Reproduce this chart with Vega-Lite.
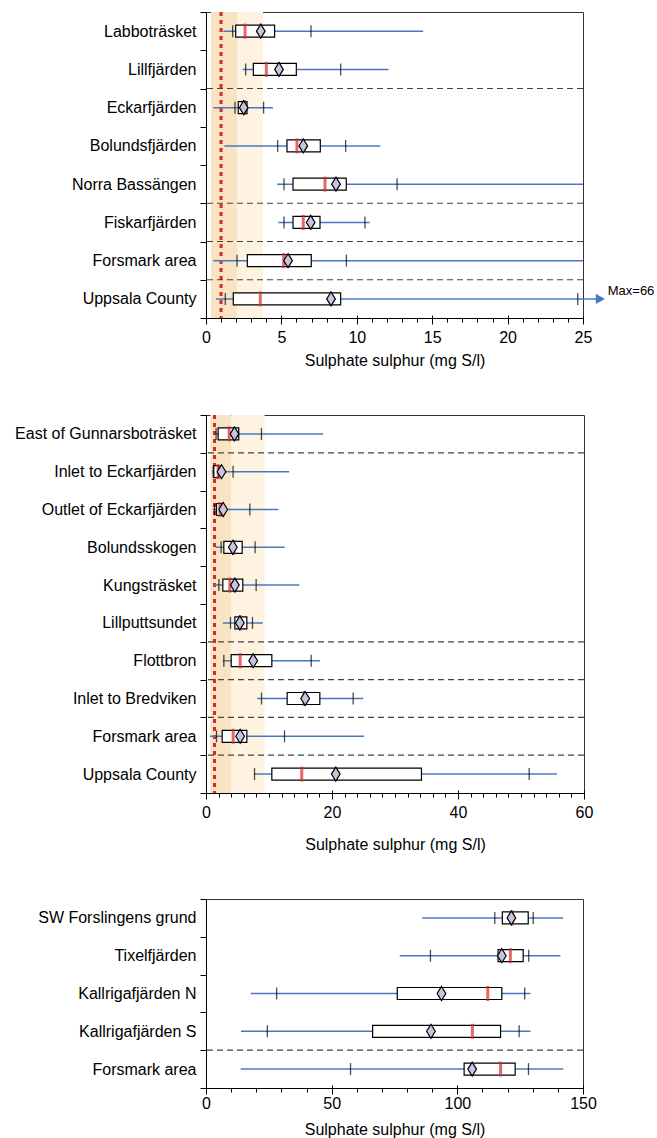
{
  "$schema": "https://vega.github.io/schema/vega-lite/v6.json",
  "padding": {"left": 14, "top": 3, "right": 2, "bottom": 2},
  "spacing": 37,
  "config": {
    "font": "Liberation Sans",
    "view": {"stroke": "#333", "strokeWidth": 1},
    "axis": {"labelFontSize": 16, "titleFontSize": 16, "titleFontWeight": "normal", "labelColor": "#000", "titleColor": "#000", "tickColor": "#000", "domainColor": "#000", "grid": false, "labelFont": "Liberation Sans", "titleFont": "Liberation Sans", "labelLimit": 300}
  },
  "datasets": {
    "p1": [
      {"site": "Labboträsket", "lo": 1.15, "p10": 1.77, "q1": 1.97, "med": 2.59, "mean": 3.63, "q3": 4.55, "p90": 6.96, "hi": 14.4},
      {"site": "Lillfjärden", "lo": 2.43, "p10": 2.63, "q1": 3.14, "med": 4.0, "mean": 4.84, "q3": 5.99, "p90": 8.93, "hi": 12.1},
      {"site": "Eckarfjärden", "lo": 0.49, "p10": 1.92, "q1": 2.14, "med": 2.54, "mean": 2.5, "q3": 2.72, "p90": 3.82, "hi": 4.44},
      {"site": "Bolundsfjärden", "lo": 1.22, "p10": 4.75, "q1": 5.37, "med": 6.03, "mean": 6.45, "q3": 7.58, "p90": 9.26, "hi": 11.56},
      {"site": "Norra Bassängen", "lo": 4.71, "p10": 5.17, "q1": 5.77, "med": 7.89, "mean": 8.62, "q3": 9.3, "p90": 12.67, "hi": 25},
      {"site": "Fiskarfjärden", "lo": 4.8, "p10": 5.17, "q1": 5.77, "med": 6.45, "mean": 6.94, "q3": 7.56, "p90": 10.54, "hi": 10.85},
      {"site": "Forsmark area", "lo": 0.49, "p10": 2.06, "q1": 2.74, "med": 5.15, "mean": 5.44, "q3": 6.98, "p90": 9.31, "hi": 25},
      {"site": "Uppsala County", "lo": 0.66, "p10": 1.28, "q1": 1.81, "med": 3.6, "mean": 8.29, "q3": 8.93, "p90": 24.65, "hi": 25.9}
    ],
    "p2": [
      {"site": "East of Gunnarsboträsket", "lo": 1.5, "p10": 1.6, "q1": 1.93, "med": 3.68, "mean": 4.52, "q3": 5.2, "p90": 8.8, "hi": 18.6},
      {"site": "Inlet to Eckarfjärden", "lo": 0.98, "p10": 1.14, "q1": 1.24, "med": 1.93, "mean": 2.46, "q3": 2.03, "p90": 4.3, "hi": 13.2},
      {"site": "Outlet of Eckarfjärden", "lo": 1.08, "p10": 1.35, "q1": 1.67, "med": 2.2, "mean": 2.73, "q3": 2.46, "p90": 6.96, "hi": 11.5},
      {"site": "Bolundsskogen", "lo": 1.51, "p10": 2.4, "q1": 2.83, "med": 4.42, "mean": 4.26, "q3": 5.74, "p90": 7.8, "hi": 12.5},
      {"site": "Kungsträsket", "lo": 1.14, "p10": 2.04, "q1": 2.67, "med": 3.78, "mean": 4.58, "q3": 5.84, "p90": 7.96, "hi": 14.8},
      {"site": "Lillputtsundet", "lo": 2.67, "p10": 3.89, "q1": 4.58, "med": 5.48, "mean": 5.37, "q3": 6.48, "p90": 7.38, "hi": 9.02},
      {"site": "Flottbron", "lo": 2.67, "p10": 2.83, "q1": 4.0, "med": 5.42, "mean": 7.49, "q3": 10.45, "p90": 16.7, "hi": 18.07},
      {"site": "Inlet to Bredviken", "lo": 8.12, "p10": 8.81, "q1": 12.88, "med": 15.58, "mean": 15.74, "q3": 18.07, "p90": 23.36, "hi": 24.95},
      {"site": "Forsmark area", "lo": 0.61, "p10": 1.67, "q1": 2.57, "med": 4.31, "mean": 5.42, "q3": 6.48, "p90": 12.46, "hi": 25.1},
      {"site": "Uppsala County", "lo": 7.6, "p10": 7.7, "q1": 10.45, "med": 15.2, "mean": 20.6, "q3": 34.2, "p90": 51.3, "hi": 55.7}
    ],
    "p3": [
      {"site": "SW Forslingens grund", "lo": 86.0, "p10": 114.9, "q1": 117.9, "med": 121.9, "mean": 121.5, "q3": 128.2, "p90": 130.2, "hi": 142.1},
      {"site": "Tixelfjärden", "lo": 77.1, "p10": 89.3, "q1": 116.2, "med": 121.1, "mean": 117.7, "q3": 126.2, "p90": 128.4, "hi": 141.0},
      {"site": "Kallrigafjärden N", "lo": 17.8, "p10": 28.1, "q1": 76.1, "med": 112.1, "mean": 93.7, "q3": 117.7, "p90": 126.8, "hi": 129.1},
      {"site": "Kallrigafjärden S", "lo": 13.9, "p10": 24.4, "q1": 66.3, "med": 106.0, "mean": 89.5, "q3": 117.2, "p90": 124.6, "hi": 129.1},
      {"site": "Forsmark area", "lo": 13.8, "p10": 57.5, "q1": 102.7, "med": 117.2, "mean": 105.9, "q3": 123.0, "p90": 128.3, "hi": 142.1}
    ],
    "sep1": [{"after": "Lillfjärden"}, {"after": "Norra Bassängen"}, {"after": "Fiskarfjärden"}, {"after": "Forsmark area"}],
    "sep2": [{"after": "East of Gunnarsboträsket"}, {"after": "Lillputtsundet"}, {"after": "Flottbron"}, {"after": "Inlet to Bredviken"}, {"after": "Forsmark area"}],
    "sep3": [{"after": "Kallrigafjärden S"}],
    "shade1": [{"zone": "inner", "from": 0.33, "to": 2.06}, {"zone": "outer", "from": 2.06, "to": 3.78}],
    "shade2": [{"zone": "inner", "from": 0.71, "to": 4.05}, {"zone": "outer", "from": 4.05, "to": 9.3}],
    "ref1": [{"value": 1.0}],
    "ref2": [{"value": 1.35}],
    "arrow": [{"site": "Uppsala County", "x": 26.15, "tx": 26.64, "label": "Max=66"}]
  },
  "vconcat": [
    {
      "width": 377,
      "height": 306,
      "resolve": {"axis": {"x": "independent"}},
      "layer": [
        {"data": {"name": "shade1"}, "mark": {"type": "rect"},
         "encoding": {
           "x": {"field": "from", "type": "quantitative", "scale": {"domain": [0, 25], "nice": false, "zero": true},
                 "axis": {"orient": "bottom", "offset": 0, "title": "Sulphate sulphur (mg S/l)", "values": [0, 5, 10, 15, 20, 25], "tickSize": 6, "labelPadding": 5, "titlePadding": 7, "labelFlush": false}},
           "x2": {"field": "to"},
           "color": {"field": "zone", "type": "nominal", "scale": {"domain": ["inner", "outer"], "range": ["#f8e4c2", "#fdf3e0"]}, "legend": null}
         }},
        {"data": {"name": "ref1"}, "mark": {"type": "rule", "color": "#d42a2a", "strokeWidth": 3, "strokeDash": [4, 4]},
         "encoding": {"x": {"field": "value", "type": "quantitative", "axis": null}}},
        {"data": {"name": "sep1"}, "mark": {"type": "rule", "color": "#444", "strokeWidth": 1.2, "strokeDash": [6, 4]},
         "encoding": {"y": {"field": "after", "type": "nominal", "bandPosition": 1,
           "scale": {"domain": ["Labboträsket", "Lillfjärden", "Eckarfjärden", "Bolundsfjärden", "Norra Bassängen", "Fiskarfjärden", "Forsmark area", "Uppsala County"], "paddingInner": 0, "paddingOuter": 0},
           "axis": {"title": null, "tickBand": "extent", "tickSize": 6, "labelPadding": 4}}}},
        {"data": {"name": "p1"}, "mark": {"type": "rule", "color": "#4a78c0", "strokeWidth": 1.5},
         "encoding": {"y": {"field": "site", "type": "nominal"},
           "x": {"field": "lo", "type": "quantitative", "axis": {"orient": "bottom", "offset": 0, "title": null, "values": [0,1,2,3,4,6,7,8,9,11,12,13,14,16,17,18,19,21,22,23,24], "labels": false, "domain": false, "tickSize": 4}},
           "x2": {"field": "hi"}}},
        {"data": {"name": "p1"}, "mark": {"type": "tick", "color": "#000", "thickness": 1.3, "size": 12},
         "encoding": {"y": {"field": "site", "type": "nominal"}, "x": {"field": "p10", "type": "quantitative", "axis": null}}},
        {"data": {"name": "p1"}, "mark": {"type": "tick", "color": "#000", "thickness": 1.3, "size": 12},
         "encoding": {"y": {"field": "site", "type": "nominal"}, "x": {"field": "p90", "type": "quantitative", "axis": {"orient": "bottom", "offset": 0, "title": null, "values": [0, 5, 10, 15, 20, 25], "labels": false, "domain": false, "tickSize": -3}}}},
        {"data": {"name": "p1"}, "mark": {"type": "bar", "fill": "#ffffff", "stroke": "#000", "strokeWidth": 1.2, "height": 12},
         "encoding": {"y": {"field": "site", "type": "nominal"}, "x": {"field": "q1", "type": "quantitative", "axis": null}, "x2": {"field": "q3"}}},
        {"data": {"name": "p1"}, "mark": {"type": "tick", "color": "#d42a2a", "thickness": 3, "size": 15},
         "encoding": {"y": {"field": "site", "type": "nominal"}, "x": {"field": "med", "type": "quantitative", "axis": null}}},
        {"data": {"name": "p1"}, "mark": {"type": "point", "shape": "M0,-1L0.62,0L0,1L-0.62,0Z", "filled": true, "fill": "#c5c5df", "stroke": "#000", "strokeWidth": 1.2, "size": 196, "opacity": 1},
         "encoding": {"y": {"field": "site", "type": "nominal"}, "x": {"field": "mean", "type": "quantitative", "axis": null}}},
        {"data": {"name": "arrow"}, "mark": {"type": "point", "shape": "triangle-right", "filled": true, "color": "#4a78c0", "size": 110, "opacity": 1},
         "encoding": {"y": {"field": "site", "type": "nominal"}, "x": {"field": "x", "type": "quantitative", "axis": null}}},
        {"data": {"name": "arrow"}, "mark": {"type": "text", "align": "left", "baseline": "middle", "fontSize": 13, "dy": -8, "color": "#000"},
         "encoding": {"y": {"field": "site", "type": "nominal"}, "x": {"field": "tx", "type": "quantitative", "axis": null}, "text": {"field": "label"}}}
      ]
    },
    {
      "width": 378,
      "height": 378,
      "resolve": {"axis": {"x": "independent"}},
      "layer": [
        {"data": {"name": "shade2"}, "mark": {"type": "rect"},
         "encoding": {
           "x": {"field": "from", "type": "quantitative", "scale": {"domain": [0, 60], "nice": false, "zero": true},
                 "axis": {"orient": "bottom", "offset": 0, "title": "Sulphate sulphur (mg S/l)", "values": [0, 20, 40, 60], "tickSize": 6, "labelPadding": 5, "titlePadding": 16, "labelFlush": false}},
           "x2": {"field": "to"},
           "color": {"field": "zone", "type": "nominal", "scale": {"domain": ["inner", "outer"], "range": ["#f8e4c2", "#fdf3e0"]}, "legend": null}
         }},
        {"data": {"name": "ref2"}, "mark": {"type": "rule", "color": "#d42a2a", "strokeWidth": 3, "strokeDash": [4, 4]},
         "encoding": {"x": {"field": "value", "type": "quantitative", "axis": null}}},
        {"data": {"name": "sep2"}, "mark": {"type": "rule", "color": "#444", "strokeWidth": 1.2, "strokeDash": [6, 4]},
         "encoding": {"y": {"field": "after", "type": "nominal", "bandPosition": 1,
           "scale": {"domain": ["East of Gunnarsboträsket", "Inlet to Eckarfjärden", "Outlet of Eckarfjärden", "Bolundsskogen", "Kungsträsket", "Lillputtsundet", "Flottbron", "Inlet to Bredviken", "Forsmark area", "Uppsala County"], "paddingInner": 0, "paddingOuter": 0},
           "axis": {"title": null, "tickBand": "extent", "tickSize": 6, "labelPadding": 4}}}},
        {"data": {"name": "p2"}, "mark": {"type": "rule", "color": "#4a78c0", "strokeWidth": 1.5},
         "encoding": {"y": {"field": "site", "type": "nominal"},
           "x": {"field": "lo", "type": "quantitative", "axis": {"orient": "bottom", "offset": 0, "title": null, "values": [2,4,6,8,10,12,14,16,18,22,24,26,28,30,32,34,36,38,42,44,46,48,50,52,54,56,58], "labels": false, "domain": false, "tickSize": 4}},
           "x2": {"field": "hi"}}},
        {"data": {"name": "p2"}, "mark": {"type": "tick", "color": "#000", "thickness": 1.3, "size": 12},
         "encoding": {"y": {"field": "site", "type": "nominal"}, "x": {"field": "p10", "type": "quantitative", "axis": null}}},
        {"data": {"name": "p2"}, "mark": {"type": "tick", "color": "#000", "thickness": 1.3, "size": 12},
         "encoding": {"y": {"field": "site", "type": "nominal"}, "x": {"field": "p90", "type": "quantitative", "axis": {"orient": "bottom", "offset": 0, "title": null, "values": [0, 20, 40, 60], "labels": false, "domain": false, "tickSize": -3}}}},
        {"data": {"name": "p2"}, "mark": {"type": "bar", "fill": "#ffffff", "stroke": "#000", "strokeWidth": 1.2, "height": 12},
         "encoding": {"y": {"field": "site", "type": "nominal"}, "x": {"field": "q1", "type": "quantitative", "axis": null}, "x2": {"field": "q3"}}},
        {"data": {"name": "p2"}, "mark": {"type": "tick", "color": "#d42a2a", "thickness": 3, "size": 15},
         "encoding": {"y": {"field": "site", "type": "nominal"}, "x": {"field": "med", "type": "quantitative", "axis": null}}},
        {"data": {"name": "p2"}, "mark": {"type": "point", "shape": "M0,-1L0.62,0L0,1L-0.62,0Z", "filled": true, "fill": "#c5c5df", "stroke": "#000", "strokeWidth": 1.2, "size": 196, "opacity": 1},
         "encoding": {"y": {"field": "site", "type": "nominal"}, "x": {"field": "mean", "type": "quantitative", "axis": null}}}
      ]
    },
    {
      "width": 377,
      "height": 189,
      "resolve": {"axis": {"x": "independent"}},
      "layer": [
        {"data": {"name": "sep3"}, "mark": {"type": "rule", "color": "#444", "strokeWidth": 1.2, "strokeDash": [6, 4]},
         "encoding": {"y": {"field": "after", "type": "nominal", "bandPosition": 1,
           "scale": {"domain": ["SW Forslingens grund", "Tixelfjärden", "Kallrigafjärden N", "Kallrigafjärden S", "Forsmark area"], "paddingInner": 0, "paddingOuter": 0},
           "axis": {"title": null, "tickBand": "extent", "tickSize": 6, "labelPadding": 4}}}},
        {"data": {"name": "p3"}, "mark": {"type": "rule", "color": "#4a78c0", "strokeWidth": 1.5},
         "encoding": {"y": {"field": "site", "type": "nominal"},
           "x": {"field": "lo", "type": "quantitative", "scale": {"domain": [0, 150], "nice": false, "zero": true},
                 "axis": {"orient": "bottom", "offset": 0, "title": "Sulphate sulphur (mg S/l)", "values": [0, 50, 100, 150], "tickSize": 6, "labelPadding": 1, "titlePadding": 10, "labelFlush": false}},
           "x2": {"field": "hi"}}},
        {"data": {"name": "p3"}, "mark": {"type": "tick", "color": "#000", "thickness": 1.3, "size": 12},
         "encoding": {"y": {"field": "site", "type": "nominal"},
           "x": {"field": "p10", "type": "quantitative", "axis": {"orient": "bottom", "offset": 0, "title": null, "values": [10,20,30,40,60,70,80,90,110,120,130,140], "labels": false, "domain": false, "tickSize": 4}}}},
        {"data": {"name": "p3"}, "mark": {"type": "tick", "color": "#000", "thickness": 1.3, "size": 12},
         "encoding": {"y": {"field": "site", "type": "nominal"}, "x": {"field": "p90", "type": "quantitative", "axis": {"orient": "bottom", "offset": 0, "title": null, "values": [0, 50, 100, 150], "labels": false, "domain": false, "tickSize": -3}}}},
        {"data": {"name": "p3"}, "mark": {"type": "bar", "fill": "#ffffff", "stroke": "#000", "strokeWidth": 1.2, "height": 12},
         "encoding": {"y": {"field": "site", "type": "nominal"}, "x": {"field": "q1", "type": "quantitative", "axis": null}, "x2": {"field": "q3"}}},
        {"data": {"name": "p3"}, "mark": {"type": "tick", "color": "#d42a2a", "thickness": 3, "size": 15},
         "encoding": {"y": {"field": "site", "type": "nominal"}, "x": {"field": "med", "type": "quantitative", "axis": null}}},
        {"data": {"name": "p3"}, "mark": {"type": "point", "shape": "M0,-1L0.62,0L0,1L-0.62,0Z", "filled": true, "fill": "#c5c5df", "stroke": "#000", "strokeWidth": 1.2, "size": 196, "opacity": 1},
         "encoding": {"y": {"field": "site", "type": "nominal"}, "x": {"field": "mean", "type": "quantitative", "axis": null}}}
      ]
    }
  ]
}
